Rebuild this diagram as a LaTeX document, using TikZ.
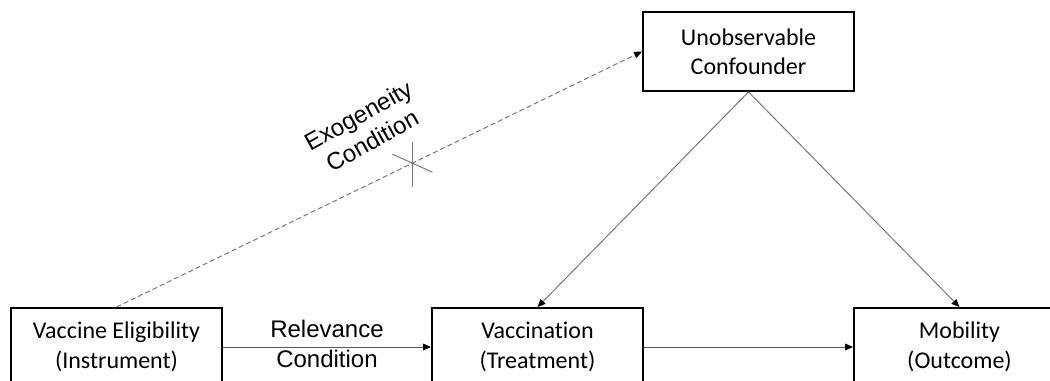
\documentclass[tikz,border=0pt]{standalone}
\usepackage{fontspec}
\setmainfont{Carlito}[Ligatures=NoCommon]
\newfontfamily\arialf{Liberation Sans}
\usetikzlibrary{arrows.meta}
\definecolor{lineA}{RGB}{90,90,90}
\definecolor{lineB}{RGB}{120,120,120}
\begin{document}
\begin{tikzpicture}[x=0.75pt,y=-0.75pt,
  box/.style={draw=black,line width=1.4pt,minimum width=158.25pt,minimum height=58.5pt,
    inner sep=0pt,align=center,font=\fontsize{18}{22.5}\selectfont},
  lbl/.style={align=center,font=\arialf\fontsize{18}{22.5}\selectfont,inner sep=0pt},
  arr/.style={line width=0.75pt,arrows={-{Triangle[length=6pt,width=5pt,color=black]}}},
  crossline/.style={draw=lineB,line width=0.75pt}]
\clip (0,0) rectangle (1050,381);
\fill[white] (0,0) rectangle (1050,381);
\node[box] (inst) at (116.5,347) {Vaccine Eligibility\\(Instrument)};
\node[box] (treat) at (537.5,347) {Vaccination\\(Treatment)};
\node[box] (out) at (959.5,347) {Mobility\\(Outcome)};
\node[box,minimum height=59.25pt,font=\fontsize{18}{22}\selectfont] (conf) at (748.5,51.5) {Unobservable\\Confounder};
\draw[arr,draw=lineA] (inst.east) -- node[lbl,yshift=2.5pt] (rel) {Relevance\\Condition} (treat.west);
\draw[arr,draw=lineA] (treat.east) -- (out.west);
\draw[arr,draw=lineB] (conf.south) -- (treat.north);
\draw[arr,draw=lineB] (conf.south) -- (out.north);
\draw[arr,draw=lineB,dash pattern=on 3.75pt off 2.25pt] (inst.north) -- coordinate[pos=0.563] (cut) (conf.west);
\draw[crossline] (cut) ++(0,-21) -- ++(0,45);
\draw[crossline] (cut) ++(-20,-9) -- ++(40,18);
\node[lbl,rotate=29,font=\arialf\fontsize{18}{21.5}\selectfont] (exo) at (365,128) {Exogeneity\\Condition};
\end{tikzpicture}
\end{document}
